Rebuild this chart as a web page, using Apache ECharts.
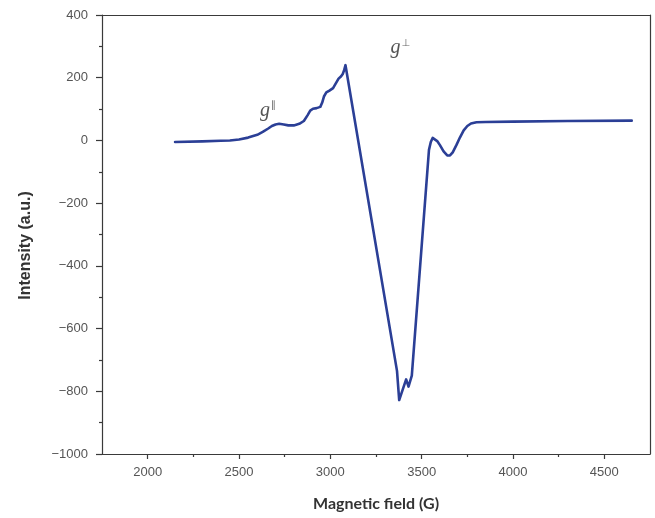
<!DOCTYPE html>
<html>
<head>
<meta charset="utf-8">
<script src="https://cdn.jsdelivr.net/npm/echarts@6/dist/echarts.min.js"></script>
<style>
  html, body { margin: 0; padding: 0; background: #fff; }
  #chart { width: 655px; height: 518px; }
</style>
</head>
<body>
<div id="chart"></div>
<script>
// EPR spectrum: magnetic field (G) vs intensity (a.u.)
const fieldG = [
  2150, 2300, 2400, 2450, 2500, 2550, 2600, 2630, 2660, 2680,
  2700, 2720, 2745, 2770, 2800, 2830, 2855, 2875, 2890, 2905,
  2925, 2945, 2955, 2965, 2978, 2995, 3015, 3030, 3045, 3058,
  3068, 3076, 3083, 3365, 3369, 3377, 3415, 3428, 3446, 3540,
  3550, 3560, 3570, 3585, 3600, 3620, 3640, 3655, 3670, 3690,
  3710, 3730, 3750, 3770, 3800, 3850, 4000, 4300, 4650
];
const intensity = [
  -5, -3, -1, 0, 3, 9, 18, 27, 38, 46,
  51, 53, 51, 48, 48, 53, 62, 80, 95, 101,
  103, 107, 120, 140, 153, 159, 167, 182, 197, 204,
  212, 225, 240, -735, -731, -828, -762, -785, -750, -30,
  -5, 8, 7, -2, -15, -35, -48, -48, -38, -15,
  10, 32, 46, 54, 58, 59, 60, 62, 63
];

// axis ticks
const xMajorTicks = [2000, 2500, 3000, 3500, 4000, 4500];
const xMinorTicks = [2250, 2750, 3250, 3750, 4250];

// peak annotations
const annotations = [
  { base: 'g', sup: '\u2225', at: [2615, 95] },
  { base: 'g', sup: '\u22A5', at: [3330, 295] }
];

const seriesData = fieldG.map((x, i) => [x, intensity[i]]);
const minusSign = v => String(v).replace('-', '\u2212');

const chart = echarts.init(document.getElementById('chart'), null, { renderer: 'canvas' });

const axisColor = '#3a3a3a';
const tickFont = { fontFamily: 'Liberation Sans', fontSize: 13, color: '#555' };
const option = {
  backgroundColor: '#ffffff',
  animation: false,
  grid: { left: 102, right: 5, top: 15, bottom: 64, containLabel: false },
  xAxis: [
    {
      type: 'value', min: 1750, max: 4750,
      name: 'Magnetic field (G)', nameLocation: 'middle', nameGap: 42,
      nameTextStyle: { fontFamily: 'Lato', fontWeight: 'bold', fontSize: 16, color: '#333' },
      axisLine: { show: true, onZero: false, lineStyle: { color: axisColor, width: 1.2 } },
      axisTick: { show: true, customValues: xMajorTicks, length: 5, inside: false, lineStyle: { color: axisColor, width: 1.2 } },
      axisLabel: Object.assign({ customValues: xMajorTicks, margin: 12, formatter: v => String(v) }, tickFont),
      splitLine: { show: false }
    },
    {
      type: 'value', min: 1750, max: 4750, position: 'bottom',
      axisLine: { show: false, onZero: false },
      axisTick: { show: true, customValues: xMinorTicks, length: 3, lineStyle: { color: axisColor, width: 1.2 } },
      axisLabel: { show: false },
      splitLine: { show: false }
    },
    {
      type: 'value', min: 1750, max: 4750, position: 'top',
      axisLine: { show: true, onZero: false, lineStyle: { color: axisColor, width: 1.2 } },
      axisTick: { show: false }, axisLabel: { show: false }, splitLine: { show: false }
    }
  ],
  yAxis: [
    {
      type: 'value', min: -1000, max: 400, interval: 200,
      name: 'Intensity (a.u.)', nameLocation: 'middle', nameGap: 68, nameRotate: 90,
      nameTextStyle: { fontFamily: 'Liberation Sans', fontWeight: 'bold', fontSize: 16, color: '#333', padding: [0, 22, 0, 0] },
      axisLine: { show: true, onZero: false, lineStyle: { color: axisColor, width: 1.2 } },
      axisTick: { show: true, length: 6, lineStyle: { color: axisColor, width: 1.2 } },
      minorTick: { show: true, splitNumber: 2, length: 3, lineStyle: { color: axisColor, width: 1.2 } },
      axisLabel: Object.assign({ margin: 14, formatter: minusSign }, tickFont),
      splitLine: { show: false }
    },
    {
      type: 'value', min: -1000, max: 400, position: 'right',
      axisLine: { show: true, onZero: false, lineStyle: { color: axisColor, width: 1.2 } },
      axisTick: { show: false }, axisLabel: { show: false }, splitLine: { show: false }
    }
  ],
  series: [
    {
      type: 'line',
      xAxisIndex: 0, yAxisIndex: 0,
      data: seriesData,
      showSymbol: false,
      smooth: false,
      lineStyle: { color: '#2b3f96', width: 2.6, join: 'round', cap: 'round' },
      z: 5
    }
  ]
};
chart.setOption(option);

// place the g-factor labels at their data positions
const labelGraphics = annotations.map(a => {
  const p = chart.convertToPixel({ xAxisIndex: 0, yAxisIndex: 0 }, a.at);
  return {
    type: 'text',
    x: p[0], y: p[1],
    style: {
      text: '{g|' + a.base + '}{s|' + a.sup + '}',
      rich: {
        g: { fontFamily: 'Liberation Serif', fontStyle: 'italic', fontSize: 20, fill: '#555' },
        s: { fontFamily: 'DejaVu Sans', fontSize: 10, fill: '#666', verticalAlign: 'top', padding: [0, 0, 10, 1] }
      },
      textVerticalAlign: 'middle'
    }
  };
});
chart.setOption({ graphic: labelGraphics });
</script>
</body>
</html>
